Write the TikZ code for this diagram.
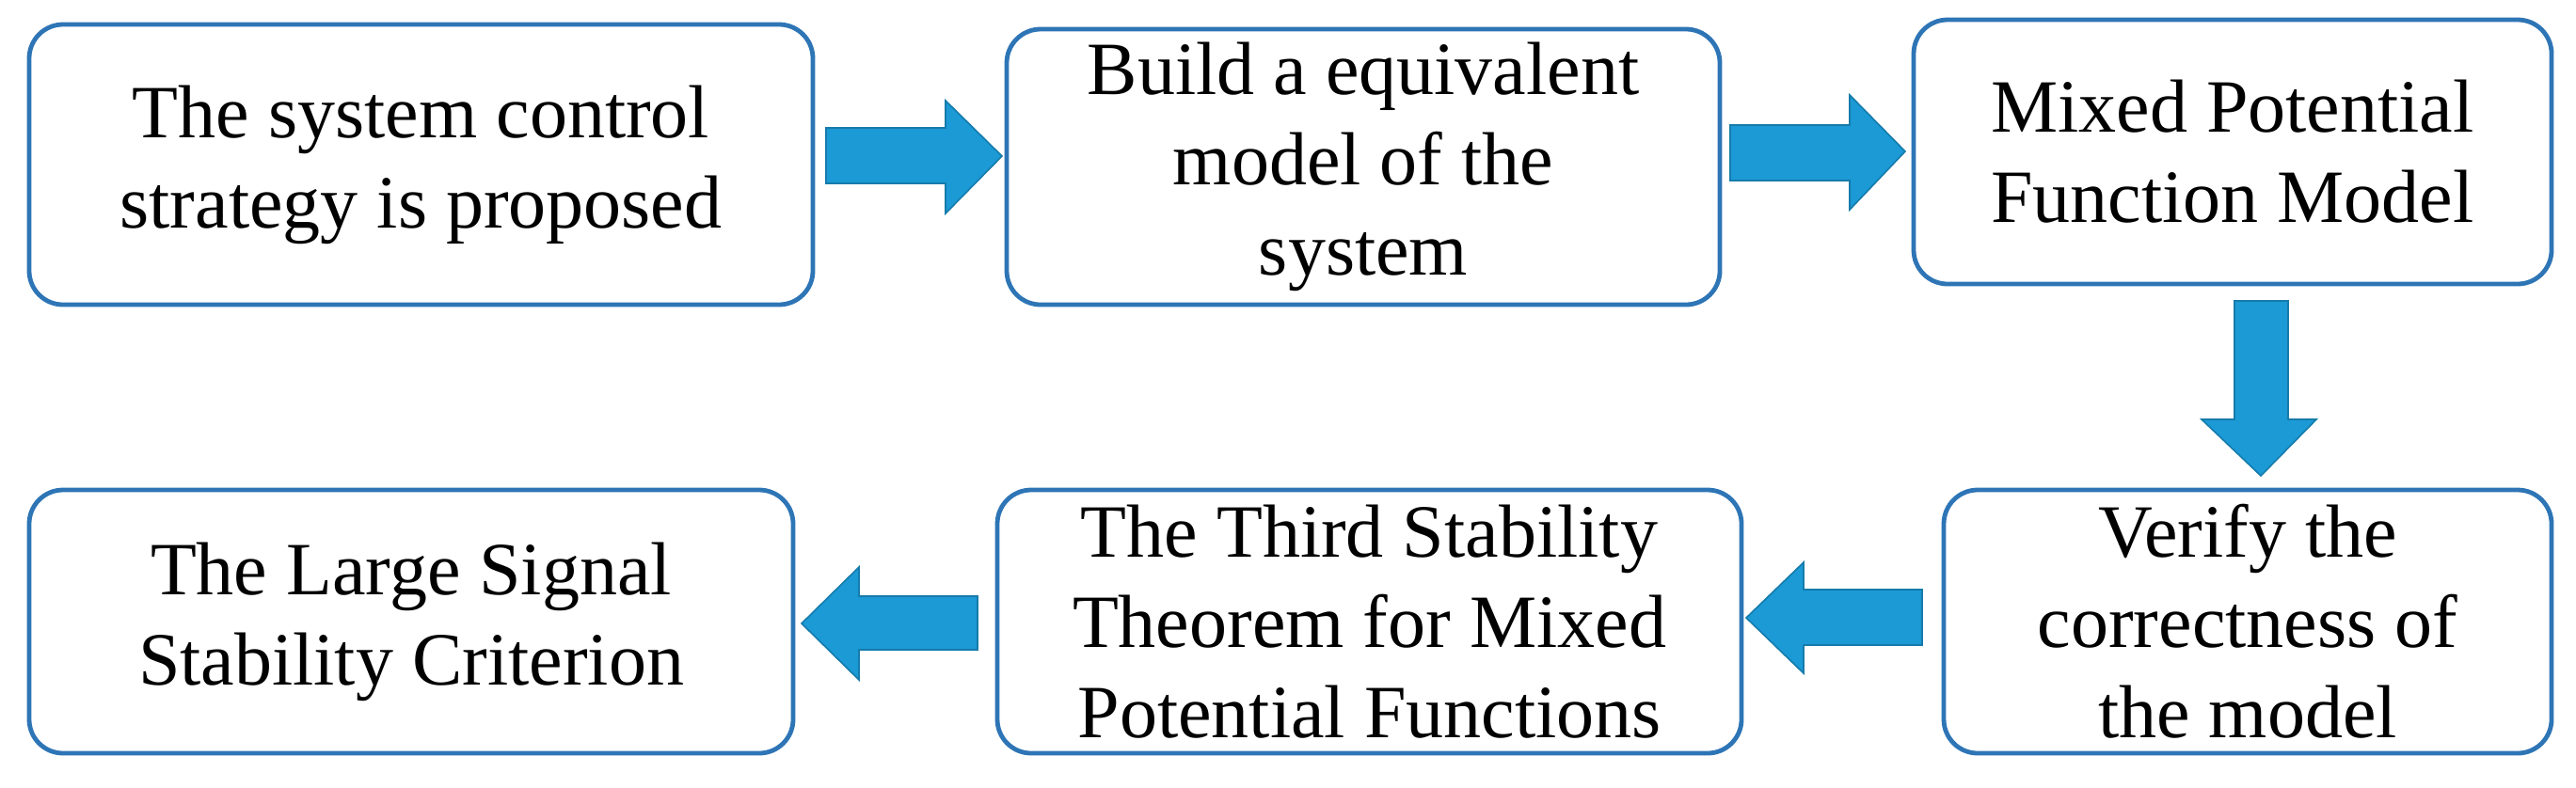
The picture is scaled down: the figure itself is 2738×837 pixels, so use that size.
\documentclass[tikz,border=0pt]{standalone}
\usepackage{fontspec}
\setmainfont{Liberation Serif}
\begin{document}
\begin{tikzpicture}[x=0.25pt,y=-0.25pt,
  box/.style={draw=boxblue,line width=1.2pt,rounded corners=9pt,align=center,
    font=\fontsize{20}{24}\selectfont},
  arr/.style={fill=arrblue,draw=arrblue!80!black,line width=0.4pt}]
\definecolor{boxblue}{RGB}{46,117,182}
\definecolor{arrblue}{RGB}{27,154,214}
\useasboundingbox (0,0) rectangle (2738,837);
\newcommand{\mybox}[6]{\node[box,minimum width=#4*0.25pt-#2*0.25pt,minimum height=#5*0.25pt-#3*0.25pt] (#1) at ({(#2+#4)/2},{(#3+#5)/2}) {#6};}
\mybox{b1}{31}{26}{864}{324}{The system control\\strategy is proposed}
\mybox{b2}{1070}{31}{1828}{324}{Build a equivalent\\model of the\\system}
\mybox{b3}{2034}{21}{2712}{302}{Mixed Potential\\Function Model}
\mybox{b4}{2066}{521}{2712}{801}{Verify the\\correctness of\\the model}
\mybox{b5}{1060}{521}{1851}{801}{The Third Stability\\Theorem for Mixed\\Potential Functions}
\mybox{b6}{31}{521}{843}{801}{The Large Signal\\Stability Criterion}
% right arrows
\draw[arr] (878,136) -- (1005,136) -- (1005,107) -- (1065,166) -- (1005,227) -- (1005,195) -- (878,195) -- cycle;
\draw[arr] (1839,133) -- (1966,133) -- (1966,101) -- (2025,161) -- (1966,223) -- (1966,192) -- (1839,192) -- cycle;
% down arrow
\draw[arr] (2375,320) -- (2432,320) -- (2432,446) -- (2462,446) -- (2403,506) -- (2340,446) -- (2375,446) -- cycle;
% left arrows
\draw[arr] (2043,627) -- (1917,627) -- (1917,598) -- (1856,657) -- (1917,716) -- (1917,686) -- (2043,686) -- cycle;
\draw[arr] (1039,634) -- (913,634) -- (913,603) -- (852,663) -- (913,723) -- (913,691) -- (1039,691) -- cycle;
\end{tikzpicture}
\end{document}
